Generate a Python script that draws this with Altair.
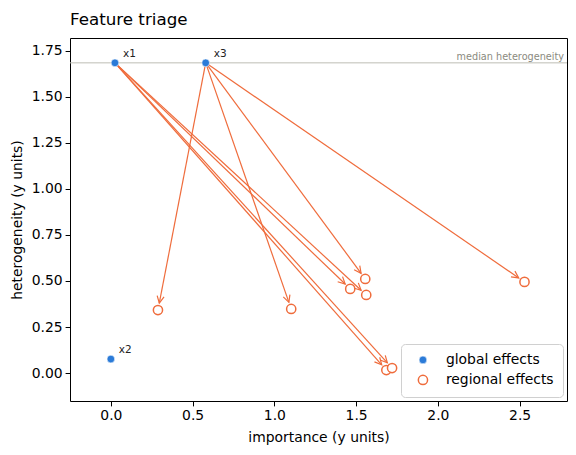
import math
import numpy as np
import pandas as pd
import altair as alt

# ---- data ----
features = ["x1", "x2", "x3"]
global_imp = [0.025, 0.0, 0.58]
global_het = [1.685, 0.076, 1.685]

regional_parent = ["x1", "x1", "x1", "x1", "x3", "x3", "x3", "x3"]
regional_imp = [1.464, 1.562, 1.685, 1.72, 0.288, 1.103, 1.556, 2.53]
regional_het = [0.457, 0.424, 0.016, 0.027, 0.342, 0.348, 0.511, 0.495]

x_ticks = [0.0, 0.5, 1.0, 1.5, 2.0, 2.5]
y_ticks = [0.0, 0.25, 0.5, 0.75, 1.0, 1.25, 1.5, 1.75]

X_DOM = [-0.25, 2.79]
Y_DOM = [-0.152, 1.82]
W, H = 497, 363
BLUE = "#2b7bd8"
ORANGE = "#ef6c3c"
FONT = "DejaVu Sans"

median_het = float(np.median(global_het))

# pixel-per-unit factors for arrow geometry
sx = W / (X_DOM[1] - X_DOM[0])
sy = H / (Y_DOM[1] - Y_DOM[0])

gmap = {f: (gx, gy) for f, gx, gy in zip(features, global_imp, global_het)}
rows = []
SHRINK = 7.0
for p, rx, ry in zip(regional_parent, regional_imp, regional_het):
    gx, gy = gmap[p]
    dxp = (rx - gx) * sx
    dyp = -(ry - gy) * sy  # screen y down
    L = math.hypot(dxp, dyp)
    f = (L - SHRINK) / L
    ex = gx + (rx - gx) * f
    ey = gy + (ry - gy) * f
    ang = math.degrees(math.atan2(dyp, dxp)) % 360
    rows.append(dict(parent=p, x=gx, y=gy, ex=ex, ey=ey, angle=ang))
arrows = pd.DataFrame(rows)

pts = pd.concat([
    pd.DataFrame(dict(imp=global_imp, het=global_het, kind="global effects", name=features)),
    pd.DataFrame(dict(imp=regional_imp, het=regional_het, kind="regional effects", name=regional_parent)),
])
glob = pd.DataFrame(dict(imp=global_imp, het=global_het, name=features))

xs = alt.Scale(domain=X_DOM, nice=False, zero=False)
ys = alt.Scale(domain=Y_DOM, nice=False, zero=False)
xax = alt.Axis(values=x_ticks, format=".1f", title="importance (y units)")
yax = alt.Axis(values=y_ticks, format=".2f", title="heterogeneity (y units)")

median_rule = alt.Chart(pd.DataFrame({"m": [median_het]})).mark_rule(
    color="#bdbdb5", strokeWidth=1
).encode(y=alt.Y("m:Q", scale=ys, axis=yax))

median_text = alt.Chart(pd.DataFrame({"m": [median_het]})).mark_text(
    text="median heterogeneity", align="right", baseline="bottom", fontSize=9.7,
    color="#8a8a80", font=FONT, dy=-1
).encode(y=alt.Y("m:Q", scale=ys), x=alt.value(W - 3))

lines = alt.Chart(arrows).mark_rule(color=ORANGE, strokeWidth=1.2).encode(
    x=alt.X("x:Q", scale=xs, axis=xax), y=alt.Y("y:Q", scale=ys, axis=yax),
    x2="ex:Q", y2="ey:Q",
)
heads = alt.Chart(arrows).mark_point(
    shape="M-1,-0.5L0,0L-1,0.5", filled=False, color=ORANGE, strokeWidth=1.2, size=196,
    opacity=1
).encode(
    x=alt.X("ex:Q", scale=xs), y=alt.Y("ey:Q", scale=ys), angle=alt.Angle("angle:Q", scale=None)
)

dom = ["global effects", "regional effects"]
points = alt.Chart(pts).mark_point(filled=False, opacity=1, strokeWidth=1.5).encode(
    x=alt.X("imp:Q", scale=xs, axis=xax),
    y=alt.Y("het:Q", scale=ys, axis=yax),
    stroke=alt.Stroke("kind:N", scale=alt.Scale(domain=dom, range=["white", ORANGE]),
                      legend=alt.Legend(title=None)),
    fill=alt.Fill("kind:N", scale=alt.Scale(domain=dom, range=[BLUE, "white"]),
                  legend=alt.Legend(title=None)),
    size=alt.Size("kind:N", scale=alt.Scale(domain=dom, range=[60, 85]),
                  legend=alt.Legend(title=None)),
    strokeWidth=alt.StrokeWidth("kind:N", scale=alt.Scale(domain=dom, range=[0.6, 1.5]),
                                legend=alt.Legend(title=None)),
)

labels = alt.Chart(glob).mark_text(
    align="left", baseline="bottom", dx=8, dy=-4, fontSize=10.5, font=FONT, color="#222"
).encode(x=alt.X("imp:Q", scale=xs), y=alt.Y("het:Q", scale=ys), text="name:N")

chart = alt.layer(median_rule, median_text, lines, heads, points, labels).properties(
    width=W, height=H,
    title=alt.TitleParams("Feature triage", anchor="start", frame="group", fontSize=16.7,
                          font=FONT, fontWeight="normal", color="black", offset=9),
    autosize=alt.AutoSizeParams(type="none"),
    padding={"left": 70, "top": 38, "right": 9, "bottom": 54},
).configure_view(stroke="black", strokeWidth=1).configure_axis(
    grid=False, domain=False, tickColor="black", tickSize=4.9, tickWidth=1,
    labelFont=FONT, labelFontSize=13.9, labelColor="black", labelPadding=3,
    titleFont=FONT, titleFontSize=13.9, titleFontWeight="normal", titleColor="black",
).configure_axisX(titlePadding=8).configure_axisY(titlePadding=7).configure_legend(
    orient="bottom-right", offset=4, padding=9, strokeColor="#d0d0d0", cornerRadius=4,
    fillColor="white", labelFont=FONT, labelFontSize=13.9, labelColor="black",
    rowPadding=5, symbolStrokeWidth=1.5, symbolOffset=6, labelOffset=16,
)

chart.save("out.html", embed_options={"renderer": "svg", "actions": False})
